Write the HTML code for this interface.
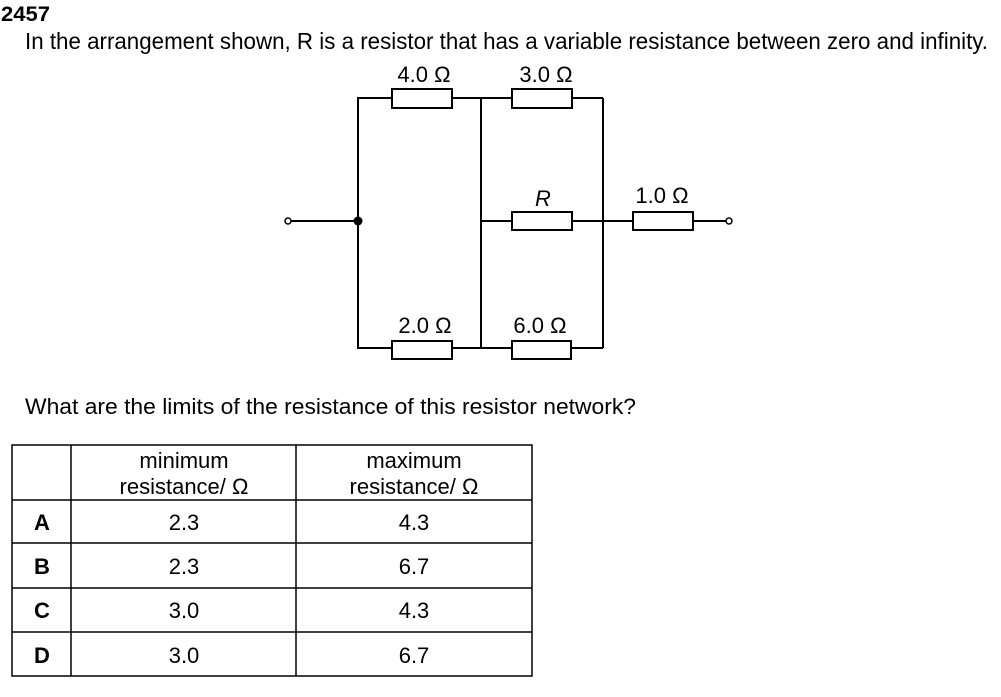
<!DOCTYPE html>
<html><head><meta charset="utf-8"><style>
html,body{margin:0;padding:0;background:#fff;}
svg{display:block;}
text{font-family:"Liberation Sans",Arial,sans-serif;fill:#000;}
</style></head><body>
<svg width="1001" height="697" viewBox="0 0 1001 697" xmlns="http://www.w3.org/2000/svg">
<text x="1" y="21" font-size="21" font-weight="bold" textLength="49" lengthAdjust="spacingAndGlyphs">2457</text>
<text x="25" y="49" font-size="23" textLength="963" lengthAdjust="spacingAndGlyphs">In the arrangement shown, R is a resistor that has a variable resistance between zero and infinity.</text>

<g stroke="#000" stroke-width="2" fill="none">
<polyline points="392,98 358,98 358,348 392,348"/>
<line x1="452" y1="98" x2="512" y2="98"/>
<line x1="572" y1="98" x2="603" y2="98"/>
<line x1="481" y1="98" x2="481" y2="348"/>
<line x1="603" y1="98" x2="603" y2="348"/>
<line x1="452" y1="348" x2="512" y2="348"/>
<line x1="571" y1="348" x2="603" y2="348"/>
<line x1="481" y1="221" x2="512" y2="221"/>
<line x1="572" y1="221" x2="633" y2="221"/>
<line x1="693" y1="221" x2="726" y2="221"/>
<line x1="291" y1="221" x2="358" y2="221"/>
<rect x="392" y="89" width="60" height="19" fill="#fff"/>
<rect x="512" y="89" width="60" height="19" fill="#fff"/>
<rect x="512" y="212" width="60" height="18" fill="#fff"/>
<rect x="633" y="212" width="60" height="18" fill="#fff"/>
<rect x="392" y="341" width="60" height="18" fill="#fff"/>
<rect x="512" y="341" width="59" height="18" fill="#fff"/>
<circle cx="288" cy="221" r="3" stroke-width="1.5" fill="#fff"/>
<circle cx="729" cy="221" r="3" stroke-width="1.5" fill="#fff"/>
</g>
<circle cx="358" cy="221" r="4.5" fill="#000"/>

<g font-size="22" text-anchor="middle">
<text x="424" y="82">4.0 Ω</text>
<text x="546" y="82">3.0 Ω</text>
<text x="543" y="206" font-style="italic">R</text>
<text x="662" y="203">1.0 Ω</text>
<text x="425" y="333">2.0 Ω</text>
<text x="540" y="333">6.0 Ω</text>
</g>

<text x="25" y="414" font-size="22" textLength="611" lengthAdjust="spacingAndGlyphs">What are the limits of the resistance of this resistor network?</text>

<g stroke="#000" stroke-width="1.5" fill="none">
<rect x="12" y="445" width="520" height="231"/>
<line x1="71" y1="445" x2="71" y2="676"/>
<line x1="296" y1="445" x2="296" y2="676"/>
<line x1="12" y1="500" x2="532" y2="500"/>
<line x1="12" y1="543" x2="532" y2="543"/>
<line x1="12" y1="588" x2="532" y2="588"/>
<line x1="12" y1="632" x2="532" y2="632"/>
</g>
<g font-size="22" text-anchor="middle">
<text x="184" y="468">minimum</text>
<text x="184" y="494">resistance/ Ω</text>
<text x="414" y="468">maximum</text>
<text x="414" y="494">resistance/ Ω</text>
<text x="184" y="530">2.3</text><text x="414" y="530">4.3</text>
<text x="184" y="574">2.3</text><text x="414" y="574">6.7</text>
<text x="184" y="618">3.0</text><text x="414" y="618">4.3</text>
<text x="184" y="663">3.0</text><text x="414" y="663">6.7</text>
<g font-weight="bold">
<text x="42" y="530">A</text>
<text x="42" y="574">B</text>
<text x="42" y="618">C</text>
<text x="42" y="663">D</text>
</g>
</g>
</svg>
</body></html>
